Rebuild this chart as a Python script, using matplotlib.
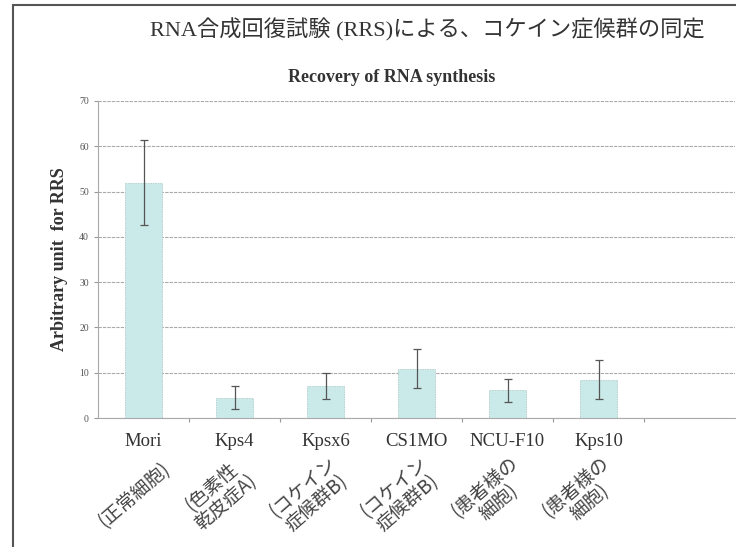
import numpy as np
import matplotlib.pyplot as plt
from matplotlib.patches import Rectangle

# RRS values per cell line (mean and error)
cell_lines = ["Mori", "Kps4", "Kpsx6", "CS1MO", "NCU-F10", "Kps10"]
notes = ["(正常細胞)", "(色素性\n乾皮症A)", "(コケイン\n症候群B)", "(コケイン\n症候群B)",
         "(患者様の\n細胞)", "(患者様の\n細胞)"]
rrs_mean = [52.0, 4.5, 7.1, 10.9, 6.1, 8.4]
rrs_err = [9.3, 2.5, 2.8, 4.3, 2.6, 4.3]
y_ticks = [0, 10, 20, 30, 40, 50, 60, 70]

serif = ["Liberation Serif", "DejaVu Serif"]
jp = ["Noto Sans CJK JP", "DejaVu Sans"]

fig = plt.figure(figsize=(7.36, 5.47), dpi=100)

# slide frame
fig.patches.append(Rectangle((13 / 736, -0.05), 1.0, (547 - 5) / 547 + 0.05,
                             transform=fig.transFigure, fill=False,
                             edgecolor="#555555", linewidth=1.5))

fig.text(0.581, 0.945, "RNA合成回復試験 (RRS)による、コケイン症候群の同定",
         family=["Liberation Serif", "Noto Sans CJK JP"], fontsize=16,
         color="#333333", ha="center", va="center")
fig.text(392 / 736, 1 - 78 / 547, "Recovery of RNA synthesis", family=serif,
         fontweight="bold", fontsize=13, color="#333333", ha="center", va="center")

ax = fig.add_axes([98 / 736, 1 - 418 / 547, (735 - 98) / 736, (418 - 101) / 547])
x = np.arange(len(cell_lines))
ax.bar(x, rrs_mean, width=0.41, color="#c9eae9", edgecolor="#b0cfcc",
       linestyle=(0, (2, 1)), linewidth=0.6, zorder=2)
ax.errorbar(x, rrs_mean, yerr=rrs_err, fmt="none", ecolor="#555555",
            elinewidth=0.9, capsize=3, capthick=0.9, zorder=3)

ax.set_xlim(-0.5, 6.5)
ax.set_ylim(0, 70)
ax.set_yticks(y_ticks)
ax.set_yticklabels([str(v) for v in y_ticks], family=serif, fontsize=7, color="#555555")
ax.yaxis.grid(True, color="#aaaaaa", linestyle=(0, (3, 1)), linewidth=0.8, zorder=0)
ax.set_axisbelow(True)

ax.set_xticks(np.arange(0.5, 6.5, 1.0))
ax.set_xticklabels([])
ax.set_xticks(x, minor=True)
ax.set_xticklabels(cell_lines, minor=True, family=serif, fontsize=13.5, color="#333333")
ax.tick_params(axis="x", which="minor", length=0, pad=11)
ax.tick_params(axis="x", which="major", length=3, color="#999999")
ax.tick_params(axis="y", length=3, color="#999999")

for side in ["top", "right"]:
    ax.spines[side].set_visible(False)
for side in ["left", "bottom"]:
    ax.spines[side].set_color("#aaaaaa")
    ax.spines[side].set_linestyle((0, (3, 1)))
    ax.spines[side].set_linewidth(0.8)

ax.set_ylabel("Arbitrary unit  for RRS", family=serif, fontweight="bold",
              fontsize=13, color="#333333", labelpad=8)

for i, note in enumerate(notes):
    shift = -0.1 if "\n" not in note else -0.17
    ax.text(i + shift, -17, note, family=jp, fontsize=13.5, color="#444444",
            rotation=41, ha="center", va="center", linespacing=1.0,
            multialignment="center")

fig.savefig("out.png", dpi=100)
